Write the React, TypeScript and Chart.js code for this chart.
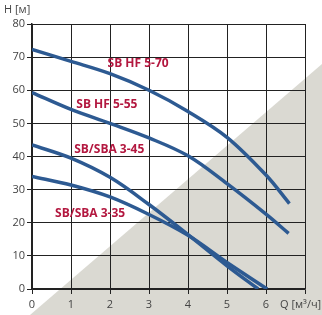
import React, { useEffect, useRef } from "react";
import { Chart, registerables } from "chart.js";

Chart.register(...registerables);

const q70 = [0, 1, 2, 3, 4, 5, 6, 6.6];
const h70 = [72.3, 68.7, 65, 60, 53.6, 45.8, 34.4, 25.8];
const q55 = [0, 1, 2, 3, 4, 5, 6, 6.58];
const h55 = [59.3, 54.2, 50, 45.6, 40.2, 31.8, 22.6, 16.8];
const q45 = [0, 1, 2, 3, 4, 5, 5.8];
const h45 = [43.5, 39.5, 33.7, 25.5, 16.4, 7, 0];
const q35 = [0, 1, 2, 3, 4, 5, 6.03];
const h35 = [34, 31.4, 27.8, 22.5, 16.2, 8, 0];

const seriesNames = ["SB HF 5-70", "SB HF 5-55", "SB/SBA 3-45", "SB/SBA 3-35"];
const labelQ = [2.72, 1.92, 1.98, 1.49];
const labelH = [68.1, 55.8, 42.2, 22.9];

const xTicks = [0, 1, 2, 3, 4, 5, 6, 7];
const yTicks = [0, 10, 20, 30, 40, 50, 60, 70, 80];
const yTitle = "H [м]";
const xTitle = "Q [м³/ч]";

const toPts = (q: number[], h: number[]) => q.map((x, i) => ({ x, y: h[i] }));

const BLUE = "#2d5a92";
const RED = "#b3173f";

export default function App() {
  const ref = useRef<HTMLCanvasElement>(null);
  useEffect(() => {
    document.body.style.margin = "0";
    const canvas = ref.current!;
    const bgPlugin = {
      id: "bg",
      beforeDraw(chart: any) {
        const c = chart.ctx;
        c.save();
        c.fillStyle = "#ffffff";
        c.fillRect(0, 0, chart.width, chart.height);
        c.fillStyle = "#dad9d2";
        c.beginPath();
        c.moveTo(chart.width, 64);
        c.lineTo(chart.width, chart.height);
        c.lineTo(30, chart.height);
        c.closePath();
        c.fill();
        c.restore();
      },
      afterDraw(chart: any) {
        const c = chart.ctx;
        const xs = chart.scales.x;
        const ys = chart.scales.y;
        c.save();
        c.font = "11px 'Open Sans'";
        c.fillStyle = "#444";
        c.textBaseline = "middle";
        c.textAlign = "left";
        c.fillText(yTitle, 4, 10);
        c.fillText(xTitle, 280, 305);
        c.font = "bold 12px 'Open Sans'";
        c.fillStyle = RED;
        c.textAlign = "center";
        seriesNames.forEach((n, i) => {
          c.fillText(n, xs.getPixelForValue(labelQ[i]), ys.getPixelForValue(labelH[i]));
        });
        c.restore();
      },
    };
    const mk = (q: number[], h: number[]) => ({
      data: toPts(q, h),
      borderColor: BLUE,
      borderWidth: 3.5,
      pointRadius: 0,
      fill: false,
      tension: 0.35,
      borderCapStyle: "butt" as const,
    });
    const chart = new Chart(canvas, {
      type: "line",
      data: {
        datasets: [mk(q70, h70), mk(q55, h55), mk(q45, h45), mk(q35, h35)],
      },
      options: {
        responsive: false,
        animation: false,
        devicePixelRatio: 1,
        layout: { padding: { top: 24, right: 17, left: 0, bottom: 0 } },
        plugins: { legend: { display: false }, tooltip: { enabled: false } },
        scales: {
          x: {
            type: "linear",
            min: 0,
            max: 7,
            afterBuildTicks: (s: any) => {
              s.ticks = xTicks.map((v) => ({ value: v }));
            },
            afterFit: (s: any) => {
              s.height = 26;
            },
            grid: { color: "#222", lineWidth: 1, tickLength: 5, drawTicks: true },
            border: { color: "#222", width: 1.5 },
            ticks: {
              color: "#444",
              font: { family: "'Open Sans'", size: 11 },
              padding: 4,
              maxRotation: 0,
              callback: (v: any) => (v === 7 ? "" : String(v)),
            },
          },
          y: {
            type: "linear",
            min: 0,
            max: 80,
            afterBuildTicks: (s: any) => {
              s.ticks = yTicks.map((v) => ({ value: v }));
            },
            afterFit: (s: any) => {
              s.width = 32;
            },
            grid: { color: "#222", lineWidth: 1, tickLength: 5 },
            border: { color: "#222", width: 1.5 },
            ticks: {
              color: "#444",
              font: { family: "'Open Sans'", size: 11 },
              padding: 2,
            },
          },
        },
      },
      plugins: [bgPlugin],
    });
    return () => chart.destroy();
  }, []);
  return (
    <div style={{ width: 322, height: 315 }}>
      <canvas ref={ref} width={322} height={315} style={{ display: "block" }} />
    </div>
  );
}
